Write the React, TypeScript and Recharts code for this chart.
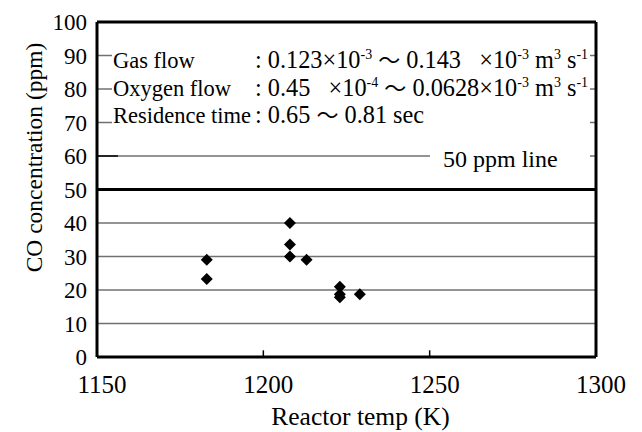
import React from "react";
import { ScatterChart, Scatter, XAxis, YAxis, ReferenceLine, Label } from "recharts";

const tempTicks = [1150, 1200, 1250, 1300];
const coTicks = [0, 10, 20, 30, 40, 50, 60, 70, 80, 90, 100];
const gridLevels = [10, 20, 30, 40, 60, 70, 80, 90];
const innerTicks = [1200, 1250];
const limitPpm = 50;

const reactorTemp = [1183, 1183, 1208, 1208, 1208, 1213, 1223, 1223, 1223, 1229];
const coPpm = [29, 23.3, 40, 33.6, 30, 29, 21, 18.7, 17.8, 18.7];

const points = reactorTemp.map((t, i) => ({ temp: t, co: coPpm[i] }));

const FONT = "'Liberation Serif', 'Times New Roman', serif";
const txt = (size: number) => ({ fontFamily: FONT, fontSize: size, fill: "#000" });

const Diamond = (props: any) => {
  const { cx, cy } = props;
  const r = 6;
  return (
    <polygon
      points={`${cx},${cy - r} ${cx + r},${cy} ${cx},${cy + r} ${cx - r},${cy}`}
      fill="#000"
    />
  );
};

const Sup = ({ children }: { children: string }) => (
  <>
    <tspan dy={-9} style={{ fontSize: 14 }}>
      {children}
    </tspan>
    <tspan dy={9}> </tspan>
  </>
);

const Wave = () => (
  <tspan style={{ fontFamily: "'Noto Sans CJK JP', sans-serif", fontSize: 22 }}>～</tspan>
);

const Note = ({
  x,
  y,
  size = 22.5,
  children,
}: {
  x: number;
  y: number;
  size?: number;
  children: React.ReactNode;
}) => (
  <text x={x} y={y} style={{ ...txt(size), whiteSpace: "pre" }}>
    {children}
  </text>
);

export default function App() {
  return (
    <div
      style={{
        position: "fixed",
        left: 0,
        top: 0,
        width: 642,
        height: 432,
        background: "#fff",
      }}
    >
      <ScatterChart
        width={642}
        height={432}
        margin={{ top: 22, right: 46, bottom: 0, left: 0 }}
      >
        <XAxis
          type="number"
          dataKey="temp"
          domain={[1150, 1300]}
          ticks={tempTicks}
          interval={0}
          height={75}
          axisLine={{ stroke: "#000", strokeWidth: 3 }}
          tickLine={false}
          tickSize={0}
          tickMargin={18}
          tick={{ dx: 5, style: txt(25) }}
        >
          <Label
            value="Reactor temp (K)"
            position="insideBottom"
            offset={7}
            dx={14}
            style={txt(25.5)}
          />
        </XAxis>
        <YAxis
          type="number"
          dataKey="co"
          domain={[0, 100]}
          ticks={coTicks}
          interval={0}
          width={97}
          axisLine={{ stroke: "#000", strokeWidth: 3 }}
          tickLine={false}
          tickSize={0}
          tickMargin={10}
          tick={{ style: txt(23) }}
        >
          <Label
            value="CO concentration (ppm)"
            angle={-90}
            position="insideLeft"
            offset={34}
            dy={-32}
            style={{ ...txt(23.5), textAnchor: "middle" }}
          />
        </YAxis>
        {gridLevels.map((v) => (
          <ReferenceLine key={v} y={v} stroke="#707070" strokeWidth={1.5} />
        ))}
        <ReferenceLine
          segment={[
            { x: 1150, y: 60 },
            { x: 1156.3, y: 60 },
          ]}
          stroke="#000"
          strokeWidth={1.5}
        />
        <ReferenceLine y={limitPpm} stroke="#000" strokeWidth={3} />
        <ReferenceLine y={100} stroke="#000" strokeWidth={3} />
        <ReferenceLine x={1300} stroke="#000" strokeWidth={3} />
        {innerTicks.map((t) => (
          <ReferenceLine
            key={t}
            segment={[
              { x: t, y: 0 },
              { x: t, y: 2 },
            ]}
            stroke="#000"
            strokeWidth={1.5}
          />
        ))}
        <Scatter data={points} shape={<Diamond />} isAnimationActive={false} />
      </ScatterChart>
      <svg
        width={642}
        height={432}
        style={{ position: "absolute", left: 0, top: 0, pointerEvents: "none" }}
      >
        <rect x={112} y={54} width={478} height={70} fill="#fff" />
        <Note x={113} y={68}>Gas flow</Note>
        <Note x={255} y={68} size={24.3}>
          : 0.123×10<Sup>-3</Sup><Wave /> 0.143   ×10<Sup>-3</Sup>m<Sup>3</Sup>s<Sup>-1</Sup>
        </Note>
        <Note x={113} y={96}>Oxygen flow</Note>
        <Note x={255} y={96} size={24.3}>
          : 0.45   ×10<Sup>-4</Sup><Wave /> 0.0628×10<Sup>-3</Sup>m<Sup>3</Sup>s<Sup>-1</Sup>
        </Note>
        <Note x={113} y={123}>Residence time</Note>
        <Note x={255} y={123} size={24.3}>
          : 0.65 <Wave /> 0.81 sec
        </Note>
        <rect x={430} y={144} width={160} height={28} fill="#fff" />
        <Note x={443} y={167} size={24}>50 ppm line</Note>
      </svg>
    </div>
  );
}
